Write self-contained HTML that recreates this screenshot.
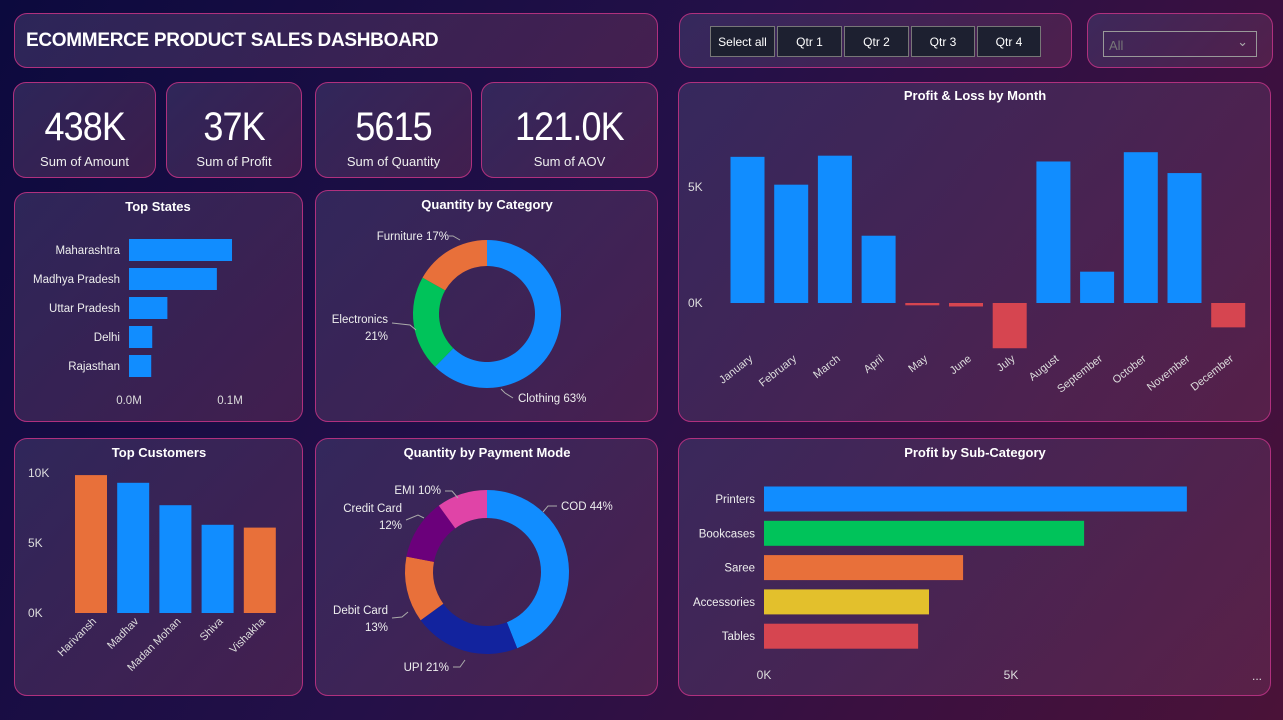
<!DOCTYPE html>
<html><head><meta charset="utf-8"><style>
*{box-sizing:border-box;margin:0;padding:0}
body{width:1283px;height:720px;overflow:hidden;font-family:"Liberation Sans",sans-serif;color:#fff;
background:linear-gradient(120deg,#0c0a3e 0%,#241048 45%,#3a1040 75%,#4a1238 100%);position:relative}
.card{position:absolute;border:1px solid #b0307e;border-radius:13px;background:linear-gradient(135deg,rgba(70,60,110,.55),rgba(110,50,90,.45))}
.kv{position:absolute;width:100%;text-align:center;top:22px;font-size:40px;letter-spacing:-1px}
.kv span{display:inline-block;transform:scaleX(.9)}
.kl{position:absolute;width:100%;text-align:center;top:71px;font-size:13px;color:#eee}
.btn{position:absolute;top:26px;height:31px;border:1px solid #777;background:#1d2030;color:#fff;font-size:12px;text-align:center;line-height:30px}
svg{position:absolute;left:0;top:0}
svg text{font-family:"Liberation Sans",sans-serif}
</style></head><body>
<div class="card" style="left:14px;top:13px;width:644px;height:55px">
<div style="position:absolute;left:11px;top:16px;font-size:19px;font-weight:bold;letter-spacing:-0.3px">ECOMMERCE PRODUCT SALES DASHBOARD</div></div>
<div class="card" style="left:679px;top:13px;width:393px;height:55px"></div>
<div class="btn" style="left:710px;width:65px">Select all</div>
<div class="btn" style="left:777px;width:65px">Qtr 1</div>
<div class="btn" style="left:844px;width:65px">Qtr 2</div>
<div class="btn" style="left:911px;width:64px">Qtr 3</div>
<div class="btn" style="left:977px;width:64px">Qtr 4</div>
<div class="card" style="left:1087px;top:13px;width:186px;height:55px">
<div style="position:absolute;left:15px;top:17px;width:154px;height:26px;border:1px solid #999;font-size:13px;color:#777;padding:6px 5px">All<span style="position:absolute;right:8px;top:2px;color:#aaa">&#8964;</span></div></div>
<div class="card" style="left:13px;top:82px;width:143px;height:96px"><div class="kv"><span>438K</span></div><div class="kl">Sum of Amount</div></div>
<div class="card" style="left:166px;top:82px;width:136px;height:96px"><div class="kv"><span>37K</span></div><div class="kl">Sum of Profit</div></div>
<div class="card" style="left:315px;top:82px;width:157px;height:96px"><div class="kv"><span>5615</span></div><div class="kl">Sum of Quantity</div></div>
<div class="card" style="left:481px;top:82px;width:177px;height:96px"><div class="kv"><span>121.0K</span></div><div class="kl">Sum of AOV</div></div>
<div class="card" style="left:14px;top:192px;width:289px;height:230px"></div>
<div class="card" style="left:315px;top:190px;width:343px;height:232px"></div>
<div class="card" style="left:678px;top:82px;width:593px;height:340px"></div>
<div class="card" style="left:14px;top:438px;width:289px;height:258px"></div>
<div class="card" style="left:315px;top:438px;width:343px;height:258px"></div>
<div class="card" style="left:678px;top:438px;width:593px;height:258px"></div>
<svg id="s" width="1283" height="720"></svg>
<script>
const months=["January","February","March","April","May","June","July","August","September","October","November","December"];
const monthProfit=[6.3,5.1,6.35,2.9,-0.1,-0.15,-1.95,6.1,1.35,6.5,5.6,-1.05];
const plTicks=[0,5];
const states=["Maharashtra","Madhya Pradesh","Uttar Pradesh","Delhi","Rajasthan"];
const stateAmount=[0.102,0.087,0.038,0.023,0.022];
const stateTicks=[0,0.1];
const customers=["Harivansh","Madhav","Madan Mohan","Shiva","Vishakha"];
const custProfit=[9.85,9.3,7.7,6.3,6.1];
const custColors=["#e8703a","#118dff","#118dff","#118dff","#e8703a"];
const custTicks=[0,5,10];
const subcats=["Printers","Bookcases","Saree","Accessories","Tables"];
const subProfit=[8.56,6.48,4.03,3.34,3.12];
const subColors=["#118dff","#00c35a","#e8703a","#e3c02c","#d64550"];
const subTicks=[0,5];
const catNames=["Clothing","Electronics","Furniture"];
const catPct=[63,21,17];
const catColors=["#118dff","#00c35a","#e8703a"];
const payNames=["COD","UPI","Debit Card","Credit Card","EMI"];
const payPct=[44,21,13,12,10];
const payColors=["#118dff","#12239e","#e8703a","#6b007b","#e044a7"];
const S=document.getElementById('s');const NS="http://www.w3.org/2000/svg";
function mk(t,a,txt){const e=document.createElementNS(NS,t);for(const k in a)e.setAttribute(k,a[k]);if(txt!==undefined)e.textContent=txt;S.appendChild(e);return e;}
function title(x,y,t,n){const e=mk('text',{x:x,y:y,'text-anchor':'middle','font-size':13,'font-weight':'bold',fill:'#fff'},t);

}
title(158,211,"Top States","top-states-title");title(487,209,"Quantity by Category","category-title");
title(975,100,"Profit & Loss by Month","pl-title");title(159,457,"Top Customers","customers-title");
title(487,457,"Quantity by Payment Mode","payment-title");title(975,457,"Profit by Sub-Category","subcat-title");
const plY=v=>303-v*23.2, plX=i=>747.5+i*43.7;
plTicks.forEach(t=>{const e=mk('text',{x:688,y:plY(t)+4,'font-size':12,fill:'#ddd'},t+"K");

});
months.forEach((m,i)=>{const v=monthProfit[i];const y0=plY(Math.max(v,0)),y1=plY(Math.min(v,0));
const r=mk('rect',{x:plX(i)-17,y:y0,width:34,height:Math.max(y1-y0,2),fill:v>=0?'#118dff':'#d64550'});


const t=mk('text',{x:plX(i)+6,y:360,'font-size':11,fill:'#ddd','text-anchor':'end',transform:`rotate(-38 ${plX(i)+6} 360)`},m);

});
const stX=v=>129+v*1010;
states.forEach((s,i)=>{const y=250+i*29;
const r=mk('rect',{x:129,y:y-11,width:stX(stateAmount[i])-129,height:22,fill:'#118dff'});


const t=mk('text',{x:120,y:y+4,'font-size':11.5,fill:'#eee','text-anchor':'end'},s);

});
stateTicks.forEach(t=>{const e=mk('text',{x:stX(t),y:404,'font-size':11.5,fill:'#ddd','text-anchor':'middle'},t.toFixed(1)+"M");

});
const cuY=v=>613-v*14, cuX=i=>91+i*42.2;
custTicks.forEach(t=>{const e=mk('text',{x:28,y:cuY(t)+4,'font-size':12,fill:'#ddd'},t+"K");

});
customers.forEach((c,i)=>{const r=mk('rect',{x:cuX(i)-16,y:cuY(custProfit[i]),width:32,height:custProfit[i]*14,fill:custColors[i]});


const t=mk('text',{x:cuX(i)+6,y:622,'font-size':11,fill:'#ddd','text-anchor':'end',transform:`rotate(-45 ${cuX(i)+6} 622)`},c);

});
const sbX=v=>764+v*49.4;
subcats.forEach((s,i)=>{const y=499+i*34.3;
const r=mk('rect',{x:764,y:y-12.5,width:sbX(subProfit[i])-764,height:25,fill:subColors[i]});


const t=mk('text',{x:755,y:y+4,'font-size':11.5,fill:'#eee','text-anchor':'end'},s);

});
subTicks.forEach(t=>{const e=mk('text',{x:sbX(t),y:679,'font-size':12,fill:'#ddd','text-anchor':'middle'},t+"K");

});
mk('text',{x:1252,y:680,'font-size':12,fill:'#ddd'},"...");
function donut(cx,cy,R,r,vals,cols,names,pre){const tot=vals.reduce((a,b)=>a+b,0);let a=-Math.PI/2;
vals.forEach((v,i)=>{const b=a+v/tot*2*Math.PI,l=(b-a)>Math.PI?1:0;
const p=(rr,ang)=>[cx+rr*Math.cos(ang),cy+rr*Math.sin(ang)];
const [x1,y1]=p(R,a),[x2,y2]=p(R,b),[x3,y3]=p(r,b),[x4,y4]=p(r,a);
const e=mk('path',{d:`M${x1} ${y1}A${R} ${R} 0 ${l} 1 ${x2} ${y2}L${x3} ${y3}A${r} ${r} 0 ${l} 0 ${x4} ${y4}Z`,fill:cols[i]});

a=b;});}
donut(487,314,74,48,catPct,catColors,catNames,'category');
donut(487,572,82,54,payPct,payColors,payNames,'payment');
function lbl(x,y,t,anc){const e=mk('text',{x:x,y:y,'font-size':11.5,fill:'#eee','text-anchor':anc||'start'},t);

}
lbl(449,240,catNames[2]+" "+catPct[2]+"%","end");lbl(388,323,catNames[1],"end");lbl(388,340,catPct[1]+"%","end");
lbl(518,402,catNames[0]+" "+catPct[0]+"%");
lbl(561,510,payNames[0]+" "+payPct[0]+"%");lbl(441,494,payNames[4]+" "+payPct[4]+"%","end");
lbl(402,512,payNames[3],"end");lbl(402,529,payPct[3]+"%","end");lbl(388,614,payNames[2],"end");lbl(388,631,payPct[2]+"%","end");
lbl(449,671,payNames[1]+" "+payPct[1]+"%","end");
[[449,236,453,236,460,240],[392,323,410,325,416,330],[513,398,505,393,501,389],[557,506,548,506,543,512],[445,491,452,491,458,498],[406,520,418,515,424,518],[392,618,402,617,408,612],[453,667,460,667,465,660]].forEach(p=>{
const e=mk('polyline',{points:`${p[0]},${p[1]} ${p[2]},${p[3]} ${p[4]},${p[5]}`,fill:'none',stroke:'#aaa','stroke-width':1});

});
</script></body></html>
